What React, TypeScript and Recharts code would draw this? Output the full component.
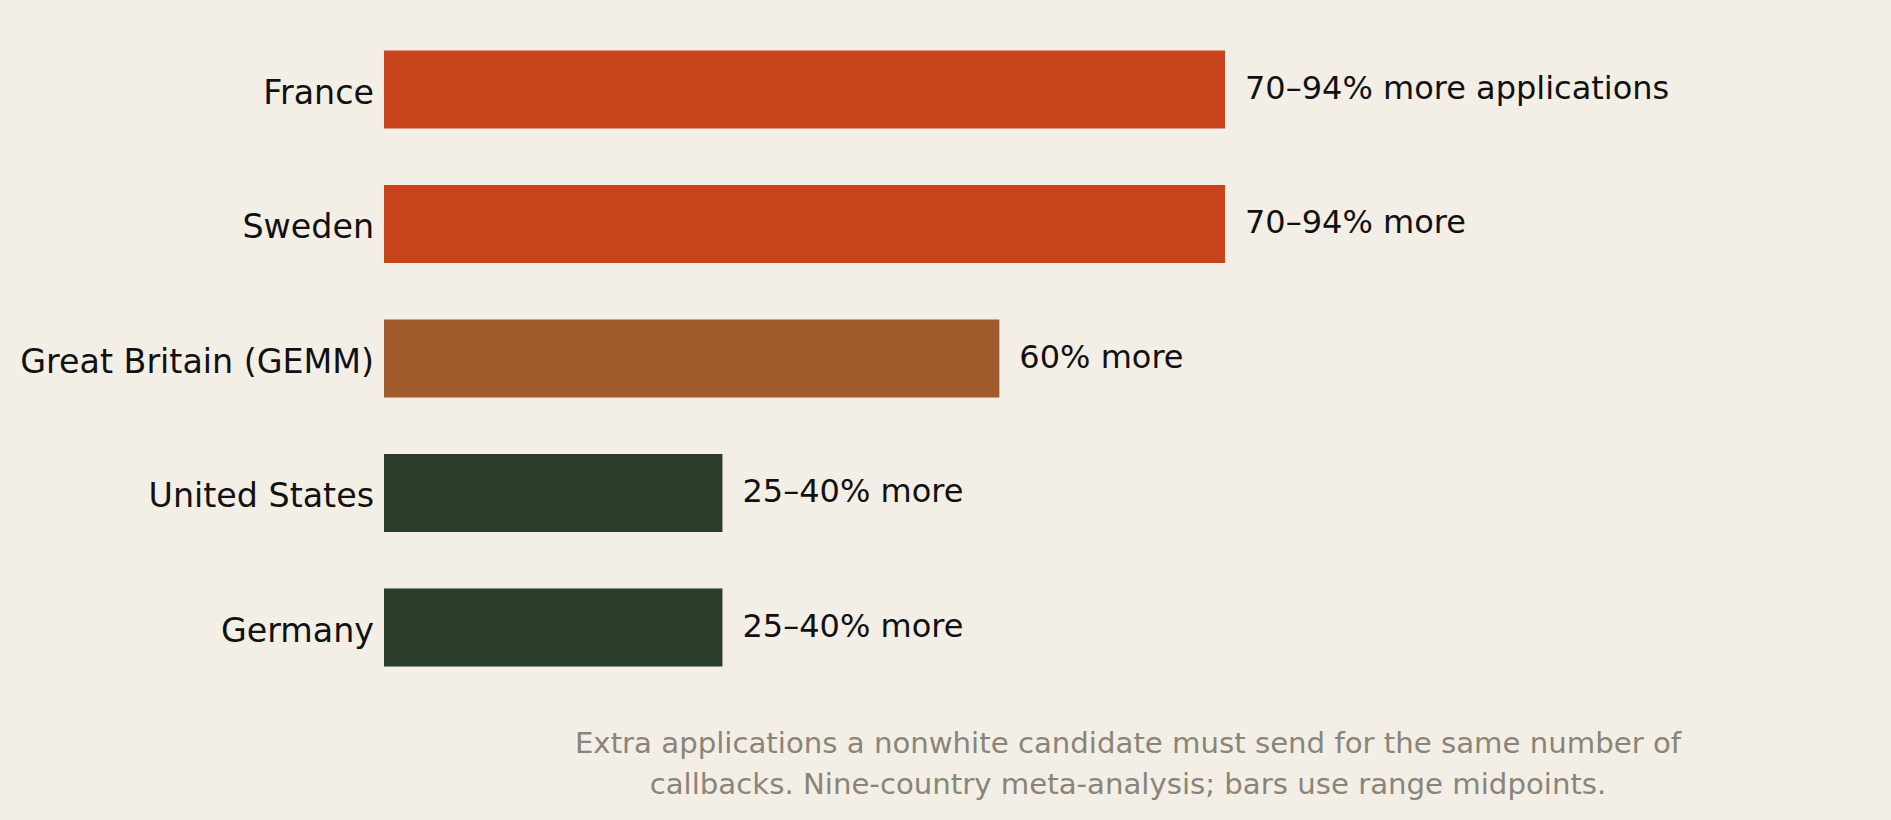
import React from 'react';
import { BarChart, Bar, XAxis, YAxis, Cell, LabelList } from 'recharts';

const categories = ['France', 'Sweden', 'Great Britain (GEMM)', 'United States', 'Germany'];
const values = [82, 82, 60, 33, 33];
const valueLabels = ['70–94% more applications', '70–94% more', '60% more', '25–40% more', '25–40% more'];
const barColors = ['#c8441c', '#c8441c', '#a05a2c', '#2b3c2a', '#2b3c2a'];
const captionLines = [
  'Extra applications a nonwhite candidate must send for the same number of',
  'callbacks. Nine-country meta-analysis; bars use range midpoints.',
];

const data = categories.map((name, i) => ({ name, value: values[i], label: valueLabels[i], color: barColors[i] }));

const FONT = '"DejaVu Sans", sans-serif';
const BG = '#f3efe7';

const CategoryTick = (props: any) => {
  const { x, y, payload } = props;
  return (
    <text x={x} y={y + 14} textAnchor="end" fontFamily={FONT} fontSize={33.3} fill="#111111">
      {payload.value}
    </text>
  );
};

const ValueLabel = (props: any) => {
  const { x, y, width, height, index } = props;
  return (
    <text x={x + width + 20} y={y + height / 2 + 9.2} textAnchor="start" fontFamily={FONT} fontSize={32} fill="#111111">
      {valueLabels[index]}
    </text>
  );
};

export default function App() {
  return (
    <div style={{ position: 'relative', width: 1891, height: 820, background: BG }}>
      <style>{`body{margin:0;background:${BG};}`}</style>
      <BarChart
        width={1891}
        height={820}
        data={data}
        layout="vertical"
        margin={{ top: 22.6, right: 19.9, bottom: 124.9, left: 0 }}
        barCategoryGap={0}
      >
        <XAxis type="number" domain={[0, 145]} hide />
        <YAxis
          type="category"
          dataKey="name"
          width={384}
          axisLine={false}
          tickLine={false}
          tickSize={0}
          tickMargin={10}
          tick={<CategoryTick />}
          interval={0}
        />
        <Bar dataKey="value" barSize={78} isAnimationActive={false}>
          {data.map((d, i) => (
            <Cell key={i} fill={d.color} />
          ))}
          <LabelList dataKey="label" content={<ValueLabel />} />
        </Bar>
      </BarChart>
      <svg width={1891} height={820} style={{ position: 'absolute', left: 0, top: 0, pointerEvents: 'none' }}>
        {captionLines.map((line, i) => (
          <text key={i} x={1128} y={752.7 + i * 41.5} textAnchor="middle" fontFamily={FONT} fontSize={29.2} fill="#8a8578">
            {line}
          </text>
        ))}
      </svg>
    </div>
  );
}
